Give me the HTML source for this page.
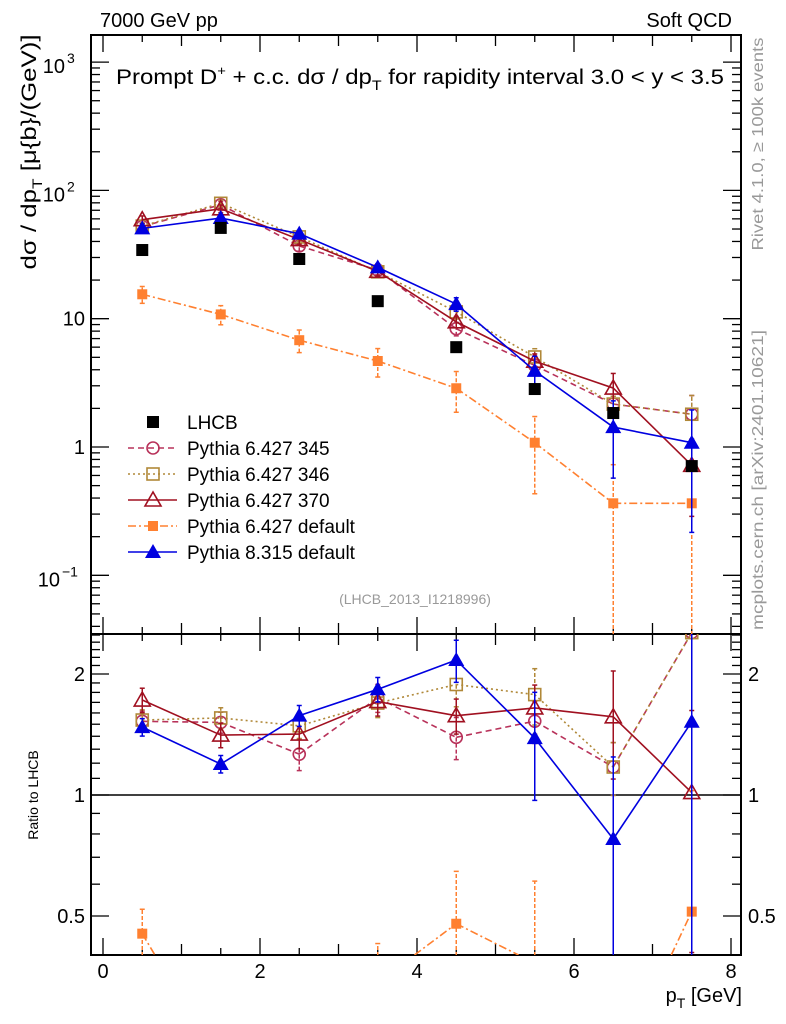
<!DOCTYPE html>
<html><head><meta charset="utf-8"><style>
html,body{margin:0;background:#fff;font-family:"Liberation Sans",sans-serif;overflow:hidden;width:786px;height:1024px}
svg{display:block}
</style></head><body>
<svg id="c" width="786" height="1024" xmlns="http://www.w3.org/2000/svg" font-family="Liberation Sans, sans-serif"></svg>
<script>
const xVals=[0.5,1.5,2.5,3.5,4.5,5.5,6.5,7.5];
const lhcb=[34.3,51,29.2,13.7,6.0,2.83,1.84,0.71];
const p345=[52.3,77.3,36.9,23.9,8.35,4.32,2.16,1.8];
const p346=[52.7,79.3,43.4,23.2,11.3,5.03,2.16,1.8];
const p370=[59.1,71.9,41.4,23.4,9.45,4.66,2.88,0.72];
const pdef=[15.5,10.8,6.8,4.68,2.87,1.08,0.364,0.364];
const p8=[50.6,60.9,46,25.1,13,3.92,1.43,1.08];
const err345=[0.06,0.06,0.09,0.08,0.12,0.12,0.15,0.4];
const err346=[0.06,0.06,0.07,0.08,0.12,0.16,0.15,0.4];
const err370=[0.07,0.07,0.08,0.08,0.1,0.14,0.3,0.6];
const errdef=[0.15,0.17,0.2,0.25,0.35,0.6,1.0,1.0];
const err8=[0.05,0.05,0.06,0.07,0.12,0.3,0.6,0.8];
const xTicks=[0,2,4,6,8];

const S=document.getElementById('c');const NS='http://www.w3.org/2000/svg';
function el(t,a,p){const e=document.createElementNS(NS,t);for(const k in a)e.setAttribute(k,a[k]);(p||S).appendChild(e);return e;}
const L=91,R=741,T1=35,B1=634,B2=955;
const X=v=>103+v*78.5;
const Y1=v=>447-128.3*Math.log10(v);
const Y2=r=>795-121*Math.log2(r);
const clampY=(y,top,bot)=>Math.max(top-1,Math.min(bot+1,y));
function clipSeg(x1,y1,x2,y2,top,bot){
 if((y1<top&&y2<top)||(y1>bot&&y2>bot))return null;
 const f=(y)=>x1+(x2-x1)*(y-y1)/(y2-y1);
 let a=[x1,y1],b=[x2,y2];
 if(a[1]<top)a=[f(top),top];if(a[1]>bot)a=[f(bot),bot];
 if(b[1]<top)b=[f(top),top];if(b[1]>bot)b=[f(bot),bot];
 return [a,b];}
const defs=el('defs',{});
const c1=el('clipPath',{id:'c1'},defs);el('rect',{x:L,y:T1,width:R-L,height:B1-T1},c1);
const c2=el('clipPath',{id:'c2'},defs);el('rect',{x:L,y:B1,width:R-L,height:B2-B1},c2);
let f1=el('rect',{x:L,y:T1,width:R-L,height:B1-T1,fill:'none',stroke:'#000','stroke-width':2});

let f2=el('rect',{x:L,y:B1,width:R-L,height:B2-B1,fill:'none',stroke:'#000','stroke-width':2});

for(let v=0;v<=8.01;v+=0.5){const x=X(v);const len=(v%2===0)?17:(v%1===0?11:7);
 for(const [yt,yb] of [[T1,B1],[B1,B2]]){el('line',{x1:x,x2:x,y1:yb,y2:yb-len,stroke:'#000','stroke-width':1.3});el('line',{x1:x,x2:x,y1:yt,y2:yt+len,stroke:'#000','stroke-width':1.3});}}
xTicks.forEach(v=>{const t=el('text',{x:X(v),y:978,'font-size':20,'text-anchor':'middle'});t.textContent=v;
 });
for(let d=-2;d<=3;d++){for(let m=1;m<=9;m++){const v=m*Math.pow(10,d);const y=Y1(v);if(y<T1||y>B1)continue;const len=m===1?18:9;
 el('line',{x1:L,x2:L+len,y1:y,y2:y,stroke:'#000','stroke-width':1.3});el('line',{x1:R,x2:R-len,y1:y,y2:y,stroke:'#000','stroke-width':1.3});}}
[[1000,'10','3'],[100,'10','2'],[10,'10',''],[1,'1',''],[0.1,'10','−1']].forEach(([v,b,e])=>{
 const y=Y1(v)+7;let t;
 if(v===10||v===1){t=el('text',{x:85,y:y,'font-size':20,'text-anchor':'end'});t.textContent=b;}
 else{t=el('text',{x:e==='−1'?60:65,y:y+4,'font-size':20,'text-anchor':'end'});t.textContent=b;
  const s=el('text',{x:e==='−1'?62:67,y:y-6,'font-size':14});s.textContent=e;}
 });
for(let r=0.4;r<=2.55;r+=0.1){const rr=Math.round(r*10)/10;const y=Y2(rr);if(y<B1||y>B2)continue;const len=(rr===0.5||rr===1||rr===2)?18:9;
 el('line',{x1:L,x2:L+len,y1:y,y2:y,stroke:'#000','stroke-width':1.3});el('line',{x1:R,x2:R-len,y1:y,y2:y,stroke:'#000','stroke-width':1.3});}
[[2,'2'],[1,'1'],[0.5,'0.5']].forEach(([r,s])=>{const y=Y2(r)+7;
 const a=el('text',{x:85,y:y,'font-size':20,'text-anchor':'end'});a.textContent=s;
 
 const b=el('text',{x:748,y:y,'font-size':20});b.textContent=s;
 });
el('line',{x1:L,x2:R,y1:Y2(1),y2:Y2(1),stroke:'#000','stroke-width':1.5});
function marker(g,kind,x,y,col){
 if(kind==='sq')el('rect',{x:x-6,y:y-6,width:12,height:12,fill:col},g);
 else if(kind==='osq')el('rect',{x:x-6,y:y-6,width:12,height:12,fill:'none',stroke:col,'stroke-width':1.6},g);
 else if(kind==='oc')el('circle',{cx:x,cy:y,r:6,fill:'none',stroke:col,'stroke-width':1.6},g);
 else if(kind==='otri')el('polygon',{points:`${x},${y-8} ${x-8},${y+6} ${x+8},${y+6}`,fill:'none',stroke:col,'stroke-width':1.6},g);
 else if(kind==='tri')el('polygon',{points:`${x},${y-8} ${x-8},${y+6} ${x+8},${y+6}`,fill:col},g);
 else if(kind==='ssq')el('rect',{x:x-5,y:y-5,width:10,height:10,fill:col},g);}
const series=[
 {name:'pythia-6427-345',vals:p345,err:err345,col:'#b8325a',dash:'6,4',m:'oc',lab:'Pythia 6.427 345'},
 {name:'pythia-6427-346',vals:p346,err:err346,col:'#b08838',dash:'2,3',m:'osq',lab:'Pythia 6.427 346'},
 {name:'pythia-6427-370',vals:p370,err:err370,col:'#a01020',dash:'',m:'otri',lab:'Pythia 6.427 370'},
 {name:'pythia-6427-default',vals:pdef,err:errdef,col:'#ff8030',dash:'8,3,2,3',m:'ssq',lab:'Pythia 6.427 default'},
 {name:'pythia-8315-default',vals:p8,err:err8,col:'#0000e0',dash:'',m:'tri',lab:'Pythia 8.315 default'}];
function draw(s,panel){
 const g=el('g',{'clip-path':panel===1?'url(#c1)':'url(#c2)'});
 
 const vals=panel===1?s.vals:s.vals.map((v,i)=>v/lhcb[i]);const Yf=panel===1?Y1:Y2;
 const top=panel===1?T1:B1,bot=panel===1?B1:B2;
 for(let i=0;i<vals.length-1;i++){
  const sg=clipSeg(X(xVals[i]),Yf(vals[i]),X(xVals[i+1]),Yf(vals[i+1]),top,bot);
  if(sg)el('line',{x1:sg[0][0],y1:sg[0][1],x2:sg[1][0],y2:sg[1][1],stroke:s.col,'stroke-width':1.6,'stroke-dasharray':s.dash},g);}
 vals.forEach((v,i)=>{const x=X(xVals[i]);const e=s.err[i];const lo=Math.max(v*(1-e),1e-4),hi=v*(1+e);
  const ylo=clampY(Yf(lo),top,bot),yhi=clampY(Yf(hi),top,bot);const yv=Yf(v);
  if(ylo<=top||yhi>=bot)return;
  el('line',{x1:x,x2:x,y1:ylo,y2:yhi,stroke:s.col,'stroke-width':1.5,'stroke-dasharray':s.dash?'4,2':''},g);
  el('line',{x1:x-2.5,x2:x+2.5,y1:ylo,y2:ylo,stroke:s.col,'stroke-width':1.5},g);
  el('line',{x1:x-2.5,x2:x+2.5,y1:yhi,y2:yhi,stroke:s.col,'stroke-width':1.5},g);
  if(yv>top-8&&yv<bot+8)marker(g,s.m,x,yv,s.col);});}
series.forEach(s=>{draw(s,1);draw(s,2);});
const gd=el('g',{'clip-path':'url(#c1)'});
lhcb.forEach((v,i)=>marker(gd,'sq',X(xVals[i]),Y1(v),'#000'));
const leg=[{lab:'LHCB',m:'sq',col:'#000',dash:null}].concat(series);
leg.forEach((s,i)=>{const y=422+i*26;const g=el('g',{});
 
 if(s.dash!==null)el('line',{x1:128,x2:177,y1:y,y2:y,stroke:s.col,'stroke-width':1.6,'stroke-dasharray':s.dash},g);
 marker(g,s.m,153,y,s.col);
 const t=el('text',{x:187,y:y+7,'font-size':19},g);t.textContent=s.lab;});
function txt(x,y,s,fs,attrs,name){const t=el('text',Object.assign({x:x,y:y,'font-size':fs},attrs||{}));t.innerHTML=s;
 return t;}
txt(100,27,'7000 GeV pp',20,{},'energy-label');
txt(732,27,'Soft QCD',20,{'text-anchor':'end'},'process-label');
txt(116,84,'Prompt D<tspan dy="-9" font-size="13">+</tspan><tspan dy="9"> + c.c.  dσ / dp</tspan><tspan dy="6" font-size="14">T</tspan><tspan dy="-6"> for rapidity interval 3.0 &lt; y &lt; 3.5</tspan>',21,{textLength:608,lengthAdjust:'spacingAndGlyphs'},'plot-title');
txt(415,604,'(LHCB_2013_I1218996)',14,{'text-anchor':'middle',fill:'#999'},'analysis-id');
txt(742,1002,'p<tspan dy="6" font-size="14">T</tspan><tspan dy="-6"> [GeV]</tspan>',20,{'text-anchor':'end'},'x-axis-title');
txt(0,0,'dσ / dp<tspan dy="6" font-size="14">T</tspan><tspan dy="-6"> [μ{b}/(GeV)]</tspan>',21,{transform:'translate(36,152) rotate(-90)','text-anchor':'middle',textLength:235,lengthAdjust:'spacingAndGlyphs'},'y-axis-title');
txt(0,0,'Ratio to LHCB',14,{transform:'translate(38,795) rotate(-90)','text-anchor':'middle'},'ratio-axis-title');
txt(0,0,'Rivet 4.1.0, ≥ 100k events',16,{transform:'translate(763,144) rotate(-90)','text-anchor':'middle',fill:'#999',textLength:213,lengthAdjust:'spacingAndGlyphs'},'rivet-label');
txt(0,0,'mcplots.cern.ch [arXiv:2401.10621]',16,{transform:'translate(763,480) rotate(-90)','text-anchor':'middle',fill:'#999',textLength:300,lengthAdjust:'spacingAndGlyphs'},'mcplots-label');
</script>
</body></html>
